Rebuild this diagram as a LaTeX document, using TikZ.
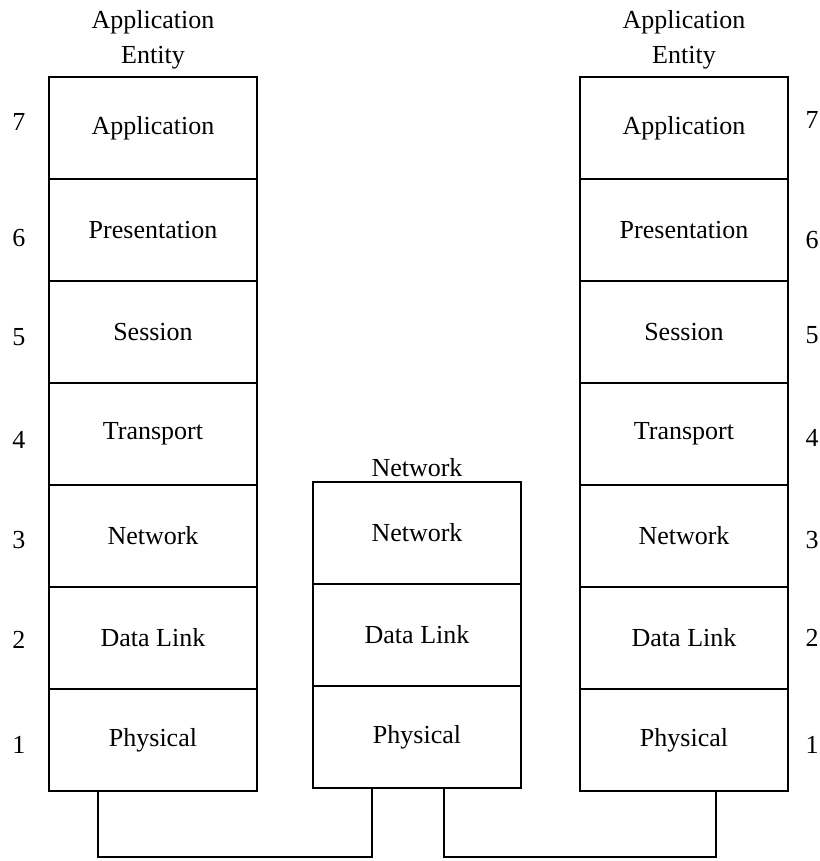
\documentclass[tikz,border=0pt]{standalone}
\usepackage{fontspec}
\setmainfont{Liberation Serif}
\usetikzlibrary{positioning}

\begin{document}
\begin{tikzpicture}[x=1pt,y=-1pt,
    layer/.style={draw,line width=2.8pt,minimum width=208pt,minimum height=102pt,
      inner sep=0pt,outer sep=0pt,font=\fontsize{26}{30}\selectfont},
    num/.style={font=\fontsize{26}{30}\selectfont},
    head/.style={align=center,font=\fontsize{26}{35}\selectfont},
    wire/.style={line width=2.8pt}]
    \useasboundingbox (0,0) rectangle (819,861);
    %% left stack
    \node[layer] (la7) at (153,128) {Application};
    \node[layer,below=0pt of la7] (la6) {Presentation};
    \node[layer,below=0pt of la6] (la5) {Session};
    \node[layer,below=0pt of la5] (la4) {Transport};
    \node[layer,below=0pt of la4] (la3) {Network};
    \node[layer,below=0pt of la3] (la2) {Data Link};
    \node[layer,below=0pt of la2] (la1) {Physical};
    \node[head,above=4pt of la7] (lhead) {Application\\Entity};
    %% middle stack
    \node[layer] (ma3) at (417,533) {Network};
    \node[layer,below=0pt of ma3] (ma2) {Data Link};
    \node[layer,below=0pt of ma2] (ma1) {Physical};
    \node[head,above=2pt of ma3] (mhead) {Network};
    %% right stack
    \node[layer] (ra7) at (684,128) {Application};
    \node[layer,below=0pt of ra7] (ra6) {Presentation};
    \node[layer,below=0pt of ra6] (ra5) {Session};
    \node[layer,below=0pt of ra5] (ra4) {Transport};
    \node[layer,below=0pt of ra4] (ra3) {Network};
    \node[layer,below=0pt of ra3] (ra2) {Data Link};
    \node[layer,below=0pt of ra2] (ra1) {Physical};
    \node[head,above=4pt of ra7] (rhead) {Application\\Entity};
    %% layer numbers
    \node[num] (ln7) at (19,122) {7};
    \node[num] (ln6) at (19,238) {6};
    \node[num] (ln5) at (19,337) {5};
    \node[num] (ln4) at (19,440) {4};
    \node[num] (ln3) at (19,540) {3};
    \node[num] (ln2) at (19,640) {2};
    \node[num] (ln1) at (19,745) {1};
    \node[num] (rn7) at (812,120) {7};
    \node[num] (rn6) at (812,240) {6};
    \node[num] (rn5) at (812,335) {5};
    \node[num] (rn4) at (812,438) {4};
    \node[num] (rn3) at (812,540) {3};
    \node[num] (rn2) at (812,638) {2};
    \node[num] (rn1) at (812,745) {1};
    %% links
    \coordinate (b1) at (98,857);
    \coordinate (b2) at (372,857);
    \coordinate (b3) at (444,857);
    \coordinate (b4) at (716,857);
    \draw[wire] (b1 |- la1.south) -- (b1) -- (b2) -- (b2 |- ma1.south);
    \draw[wire] (b3 |- ma1.south) -- (b3) -- (b4) -- (b4 |- ra1.south);
\end{tikzpicture}
\end{document}
